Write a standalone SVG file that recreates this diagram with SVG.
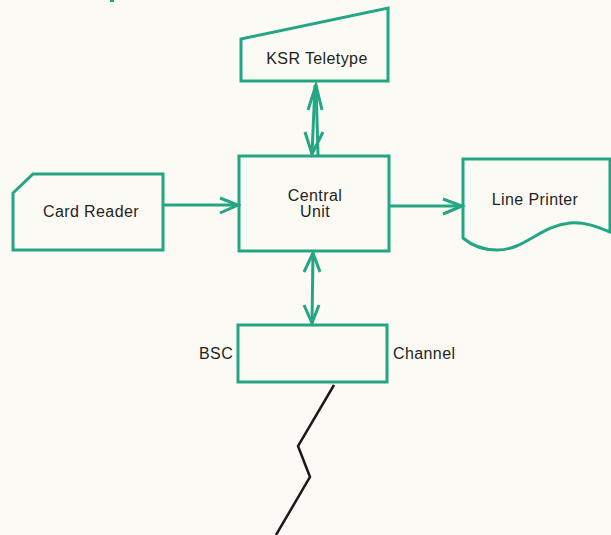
<svg xmlns="http://www.w3.org/2000/svg" width="611" height="535" viewBox="0 0 611 535">
  <style>
    .shape { fill: none; stroke: #23a684; stroke-width: 3; stroke-linejoin: miter; }
    .wire { fill: none; stroke: #23a684; stroke-width: 3; stroke-linecap: butt; stroke-linejoin: miter; }
    .label { font-family: "Liberation Sans", Arial, sans-serif; font-size: 16px; fill: #231f20; letter-spacing: 0.4px; }
    .mid { text-anchor: middle; }
  </style>
  <rect width="611" height="535" fill="#fcfaf5"/>
  <rect x="110" y="0" width="4" height="2" fill="#23a684"/>

  <g id="ksr-teletype">
    <path class="shape" d="M241,39 L388,8 L388,81 L241,81 Z"/>
    <text class="label mid" x="317" y="64">KSR Teletype</text>
  </g>

  <g id="card-reader">
    <path class="shape" d="M13,193 L33,174 L163,174 L163,250 L13,250 Z"/>
    <text class="label mid" x="91" y="217">Card Reader</text>
  </g>

  <g id="central-unit">
    <rect class="shape" x="239" y="156" width="150" height="95"/>
    <text class="label mid" x="315" y="201">Central</text>
    <text class="label mid" x="315" y="217">Unit</text>
  </g>

  <g id="line-printer">
    <path class="shape" d="M463,159 L610,159 L610,232 C595,226 585,222 570,223 C540,226 525,250 497,250 C480,250 470,244 463,238 Z"/>
    <text class="label mid" x="535" y="205">Line Printer</text>
  </g>

  <g id="bsc-channel">
    <rect class="shape" x="238" y="325" width="149" height="57"/>
    <text class="label" x="199" y="359">BSC</text>
    <text class="label" x="393" y="359">Channel</text>
  </g>

  <g id="connectors">
    <!-- teletype <-> central unit: paired shafts -->
    <path class="wire" d="M318,155 L316,85"/>
    <path class="wire" d="M308,110 L316,85 L322,110"/>
    <path class="wire" d="M315,85 L312,154"/>
    <path class="wire" d="M305,132 L312,154 L323,132"/>
    <!-- card reader -> central unit -->
    <path class="wire" d="M163,205 L238,205"/>
    <path class="wire" d="M220,198 L238,205 L220,213"/>
    <!-- central unit -> line printer -->
    <path class="wire" d="M389,206 L462,206"/>
    <path class="wire" d="M443,199 L462,206 L443,214"/>
    <!-- central unit <-> BSC channel -->
    <path class="wire" d="M313,253 L312,323"/>
    <path class="wire" d="M304,272 L313,253 L320,272"/>
    <path class="wire" d="M304,305 L312,323 L319,305"/>
    <!-- communication line -->
    <path d="M334,385 L298,446 L310,477 L276,535" fill="none" stroke="#1a1a1a" stroke-width="2.5" stroke-linejoin="miter"/>
  </g>
</svg>
